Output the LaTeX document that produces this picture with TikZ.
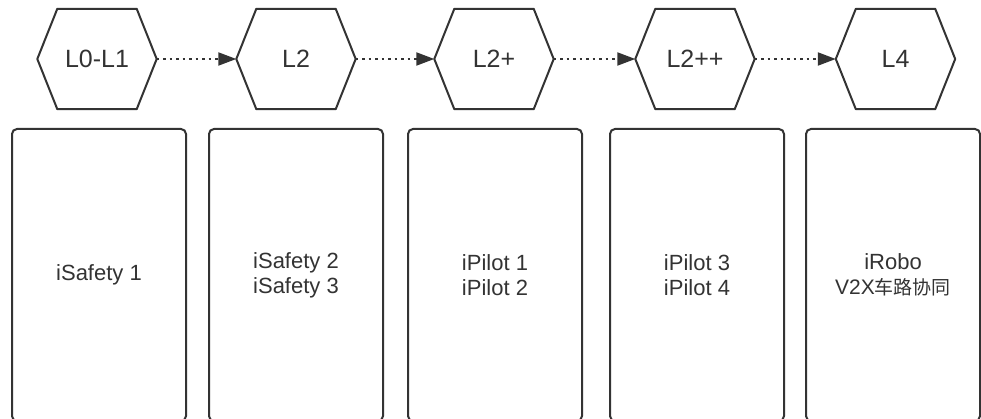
\documentclass[tikz,border=0pt]{standalone}
\usepackage{fontspec}
\setmainfont{Liberation Sans}
\newfontfamily\cjk{Noto Sans CJK SC}
\usetikzlibrary{arrows.meta,calc}
\definecolor{linec}{HTML}{333333}
\definecolor{txtc}{HTML}{333333}
\tikzset{
  hexbox/.style={minimum width=119pt, minimum height=100pt, inner sep=0pt,
    font=\fontsize{25pt}{30pt}\selectfont, text=txtc},
  hexline/.style={draw=linec, line width=2pt, line join=round},
  panel/.style={draw=linec, line width=2pt, rounded corners=5pt,
    minimum width=174pt, minimum height=292pt, inner sep=0pt, align=center,
    font=\fontsize{22pt}{25pt}\selectfont, text=txtc},
  conn/.style={draw=linec, line width=2pt, dash pattern=on 2.5pt off 4pt,
    -{Triangle[length=18pt,width=13pt,fill=linec]}},
}
\newcommand\hexdraw[1]{\draw[hexline] (#1.west) -- ([xshift=20pt]#1.north west) -- ([xshift=-20pt]#1.north east) -- (#1.east) -- ([xshift=-20pt]#1.south east) -- ([xshift=20pt]#1.south west) -- cycle;}
\begin{document}
\begin{tikzpicture}[x=1pt,y=-1pt]
\useasboundingbox[fill=white] (0,0) rectangle (981,419);
\node[hexbox] (h1) at (97,59) {L0-L1};
\node[hexbox] (h2) at (296,59) {L2};
\node[hexbox] (h3) at (494,59) {L2+};
\node[hexbox] (h4) at (695,59) {L2++};
\node[hexbox] (h5) at (895.5,59) {L4};
\hexdraw{h1}\hexdraw{h2}\hexdraw{h3}\hexdraw{h4}\hexdraw{h5}
\draw[conn] (h1.east) -- (h2.west);
\draw[conn] (h2.east) -- (h3.west);
\draw[conn] (h3.east) -- (h4.west);
\draw[conn] (h4.east) -- (h5.west);
\node[panel] (b1) at (99,275) {iSafety 1};
\node[panel] (b2) at (296,275) {iSafety 2\\iSafety 3};
\node[panel] (b3) at (495,275) {iPilot 1\\iPilot 2};
\node[panel] (b4) at (697,275) {iPilot 3\\iPilot 4};
\node[panel] (b5) at (893,275) {iRobo\\{\fontsize{21pt}{25pt}\selectfont V2X}{\cjk\fontsize{19pt}{25pt}\selectfont 车路协同}};
\end{tikzpicture}
\end{document}
